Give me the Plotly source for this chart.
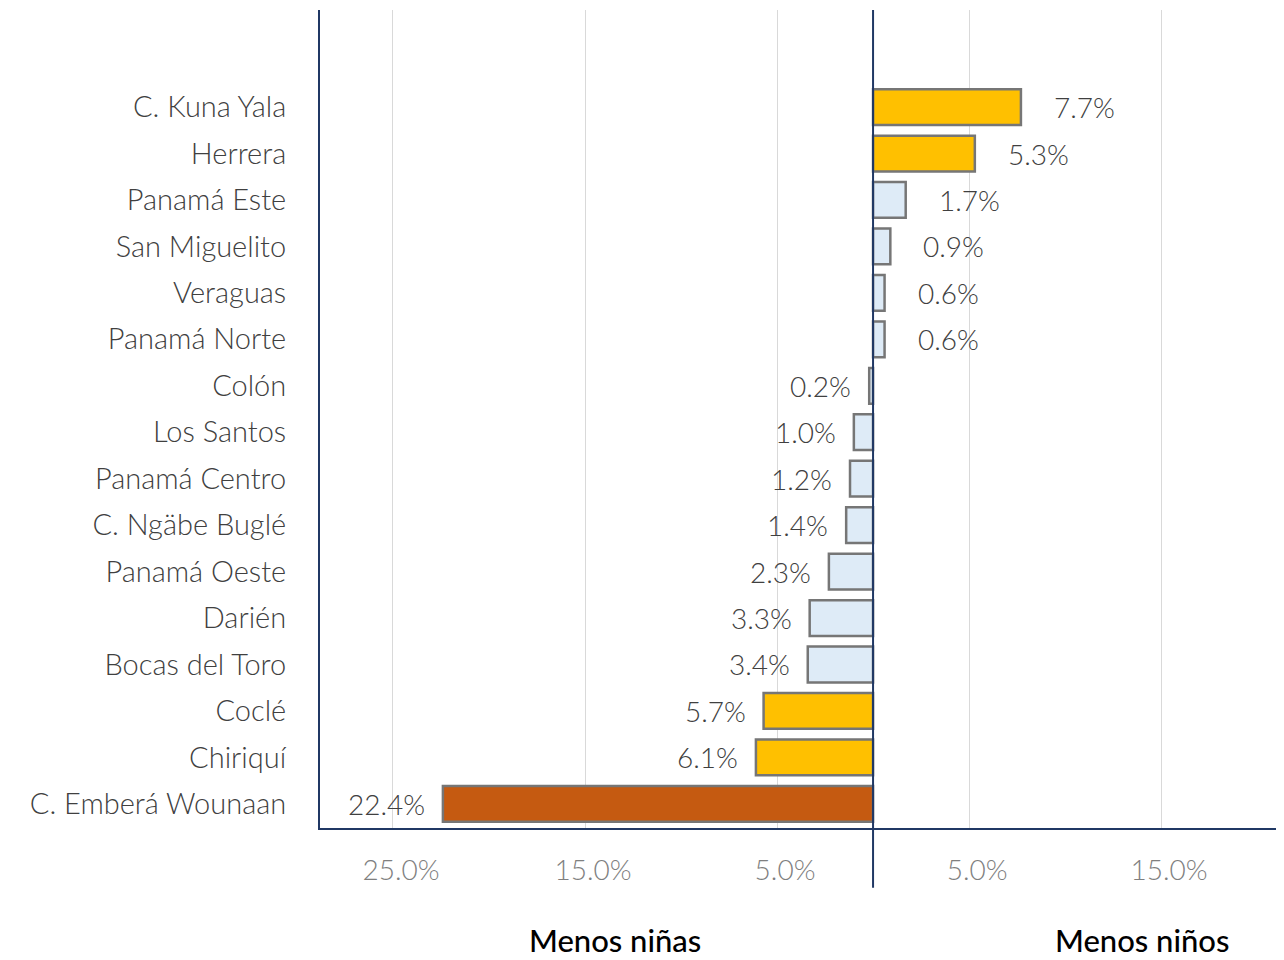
import plotly.graph_objects as go

# Top-to-bottom order as in the chart
regions = [
    "C. Kuna Yala", "Herrera", "Panamá Este", "San Miguelito", "Veraguas",
    "Panamá Norte", "Colón", "Los Santos", "Panamá Centro", "C. Ngäbe Buglé",
    "Panamá Oeste", "Darién", "Bocas del Toro", "Coclé", "Chiriquí",
    "C. Emberá Wounaan",
]
gap_pct = [7.7, 5.3, 1.7, 0.9, 0.6, 0.6, -0.2, -1.0, -1.2, -1.4,
           -2.3, -3.3, -3.4, -5.7, -6.1, -22.4]
tick_vals = [-25, -15, -5, 5, 15]
tick_text = ["25.0%", "15.0%", "5.0%", "5.0%", "15.0%"]

GOLD = "#FFC000"
PALE = "#DEEBF7"
RUST = "#C55A11"
NAVY = "#203864"
FONT = "Lato, sans-serif"


def bar_color(v):
    if v <= -10:
        return RUST
    if abs(v) >= 5:
        return GOLD
    return PALE


cats = regions[::-1]
vals = gap_pct[::-1]

fig = go.Figure()
fig.add_trace(
    go.Bar(
        x=vals,
        y=cats,
        orientation="h",
        width=0.77,
        marker=dict(color=[bar_color(v) for v in vals], line=dict(color="#767676", width=2.5)),
        showlegend=False,
        hoverinfo="x+y",
    )
)

for c, v in zip(cats, vals):
    fig.add_annotation(
        x=v, y=c, text=f"{abs(v):.1f}%", showarrow=False,
        xanchor="left" if v > 0 else "right",
        xshift=31 if v > 0 else -16,
        font=dict(family=FONT, size=28, color="#404040", weight=300),
    )

# zero line runs past the bottom axis
fig.add_shape(type="line", xref="x", yref="paper", x0=0, x1=0, y0=-0.073, y1=1,
              line=dict(color=NAVY, width=2))

for xp, label in [(0.306, "Menos niñas"), (0.853, "Menos niños")]:
    fig.add_annotation(xref="paper", yref="paper", x=xp, y=-0.137, text=label,
                       xanchor="center", yanchor="middle", showarrow=False,
                       font=dict(family=FONT, size=31, color="#000000", weight=500))

fig.update_layout(
    width=1276,
    height=952,
    margin=dict(l=312, r=0, t=2, b=132),
    plot_bgcolor="white",
    paper_bgcolor="white",
    xaxis=dict(
        range=[-28.8, 21.4],
        tickvals=tick_vals,
        ticktext=tick_text,
        showgrid=True,
        gridcolor="#D9D9D9",
        gridwidth=1,
        zeroline=False,
        showline=True,
        linecolor=NAVY,
        linewidth=2,
        ticks="",
        ticklabelstandoff=16,
        ticklabelshift=8,
        tickfont=dict(family=FONT, size=28, color="#7F7F7F", weight=300),
    ),
    yaxis=dict(
        type="category",
        categoryorder="array",
        categoryarray=cats,
        range=[-0.52, 17.09],
        showgrid=False,
        zeroline=False,
        showline=True,
        linecolor=NAVY,
        linewidth=2,
        ticks="",
        ticklabelstandoff=26,
        tickfont=dict(family=FONT, size=29, color="#404040", weight=300),
    ),
)

fig.write_html("out.html")
